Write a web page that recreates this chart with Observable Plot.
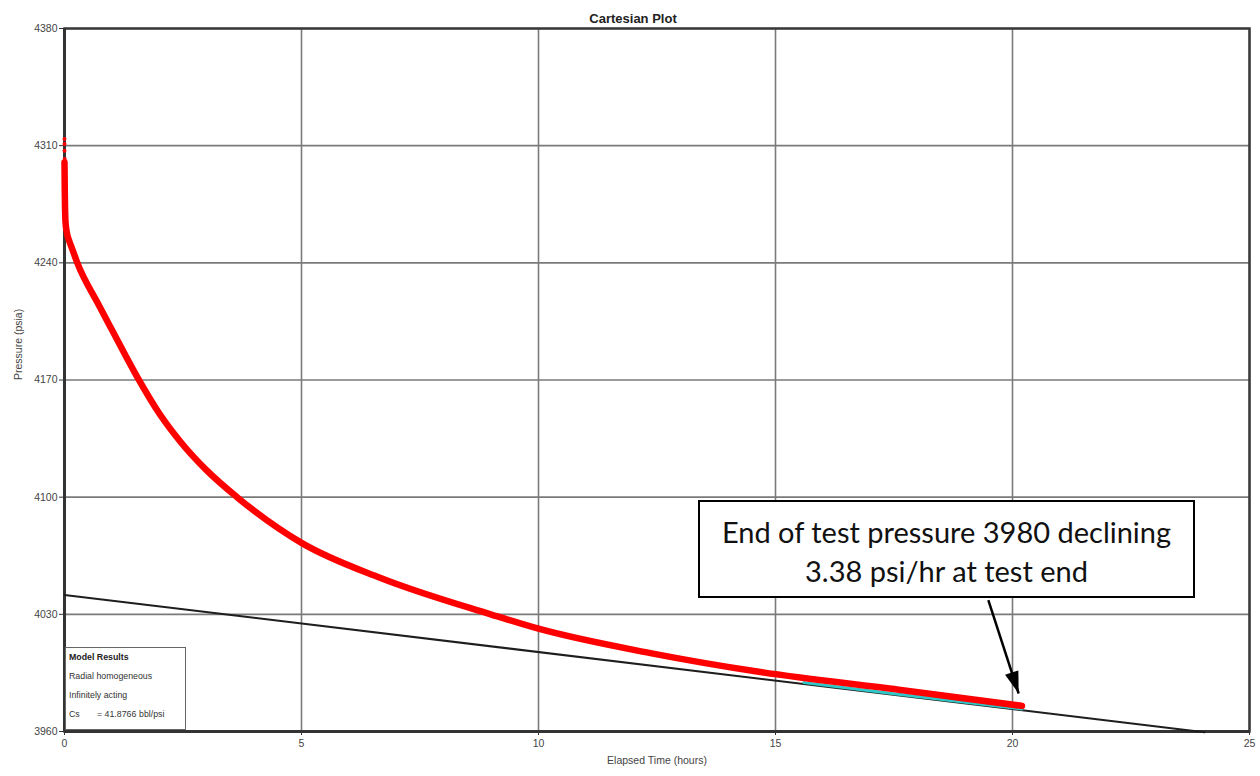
<!DOCTYPE html>
<html>
<head>
<meta charset="utf-8">
<script src="https://cdn.jsdelivr.net/npm/d3@7"></script>
<script src="https://cdn.jsdelivr.net/npm/@observablehq/plot@0.6"></script>
<style>
  html, body { margin: 0; padding: 0; background: #fff; }
  #wrap { position: relative; width: 1260px; height: 776px; overflow: hidden; }
  #note {
    position: absolute; left: 698px; top: 500px; width: 497px; height: 98px;
    box-sizing: border-box; border: 2px solid #000; background: #fff;
    font-family: Lato, "Open Sans", sans-serif; font-size: 29px; line-height: 39px;
    text-align: center; padding-top: 10px; color: #111;
  }
  #model {
    position: absolute; left: 65px; top: 647px; width: 121px; height: 83px;
    box-sizing: border-box; border: 1px solid #666; background: #fff;
    font-family: "Liberation Sans", Arial, sans-serif; font-size: 8.8px; line-height: 19px;
    color: #333; padding-left: 3px;
  }
  #model b { color: #222; }
  #model span { display: inline-block; }
</style>
</head>
<body>
<div id="wrap"></div>
<script>
// ---- data ----
const xTicks = [0, 5, 10, 15, 20, 25];
const yTicks = [3960, 4030, 4100, 4170, 4240, 4310, 4380];

// measured pressure (red)
const measT = [0, 0.005, 0.01, 0.02, 0.05, 0.1, 0.16, 0.27, 0.72, 1.0, 1.53, 2.0, 2.45, 3.0, 3.64, 5.0, 6.67, 8.99, 10.0, 12.36, 14.68, 17.6, 20.2];
const measP = [4300, 4285, 4275, 4265, 4258, 4253, 4248.5, 4240, 4215, 4200, 4172, 4150, 4133, 4116, 4100, 4072.7, 4051.7, 4030, 4021.4, 4006.8, 3995.5, 3985, 3975.3];

// early scattered samples near t = 0
const spikeT = [0, 0, 0, 0.005, 0.005, 0.01];
const spikeP = [4314, 4311, 4307, 4302, 4297, 4292];

// straight-line trend (black)
const trendT = [0, 24.05];
const trendP = [4041.6, 3959.5];

// model match (cyan)
const modelT = [15.6, 17.5, 20.2];
const modelP = [3989.2, 3982.6, 3973.4];

// annotation arrow (from note box to end of test)
const arrowT = [19.49, 20.13];
const arrowP = [4038.5, 3982.7];

const meas = measT.map((t, i) => ({t, p: measP[i]}));
const spikes = spikeT.map((t, i) => ({t, p: spikeP[i]}));
const trend = trendT.map((t, i) => ({t, p: trendP[i]}));
const model = modelT.map((t, i) => ({t, p: modelP[i]}));
const arrow = [{t1: arrowT[0], p1: arrowP[0], t2: arrowT[1], p2: arrowP[1]}];

// narrow filled triangle, tip at origin, pointing up
const arrowHead = {
  draw(ctx) {
    ctx.moveTo(0, 0);
    ctx.lineTo(7, 22);
    ctx.lineTo(-7, 22);
    ctx.closePath();
  }
};
const headAngle = 161.6;

const chart = Plot.plot({
  width: 1260,
  height: 776,
  marginLeft: 64,
  marginRight: 11,
  marginTop: 28,
  marginBottom: 45,
  style: {fontFamily: "'Liberation Sans', Arial, sans-serif", fontSize: "10px", background: "#fff"},
  x: {domain: [0, 25]},
  y: {domain: [3960, 4380]},
  marks: [
    Plot.gridX(xTicks, {stroke: "#7a7a7a", strokeOpacity: 1, strokeWidth: 1.6}),
    Plot.gridY(yTicks, {stroke: "#7a7a7a", strokeOpacity: 1, strokeWidth: 1.6}),
    Plot.frame({stroke: "#3a3a3a", strokeWidth: 2.5}),
    Plot.ruleX([0], {stroke: "#333", strokeWidth: 3}),
    Plot.ruleY([3960], {stroke: "#333", strokeWidth: 3}),
    Plot.axisX(xTicks, {tickSize: 4, tickPadding: 4, fontSize: 10.5, color: "#444", label: null, stroke: "#333", tickFormat: d3.format("d")}),
    Plot.axisY(yTicks, {tickSize: 5, tickPadding: 2, fontSize: 10.5, color: "#444", label: null, stroke: "#333", tickFormat: d3.format("d")}),
    Plot.line(trend, {x: "t", y: "p", stroke: "#1e1e1e", strokeWidth: 2}),
    Plot.line(model, {x: "t", y: "p", stroke: "#2fc8c8", strokeWidth: 3}),
    Plot.line(meas, {x: "t", y: "p", stroke: "#ff0000", strokeWidth: 6.5, curve: "monotone-x"}),
    Plot.dot(spikes, {x: "t", y: "p", r: 2, fill: "#ff0000", stroke: null}),
    Plot.link(arrow, {x1: "t1", y1: "p1", x2: "t2", y2: "p2", stroke: "#000", strokeWidth: 2.5}),
    Plot.dot(arrow, {x: "t2", y: "p2", symbol: arrowHead, fill: "#000", stroke: null, rotate: headAngle}),
    Plot.text(["Cartesian Plot"], {frameAnchor: "top", dy: -15, dx: -24, fontWeight: "bold", fontSize: 13, fill: "#222"}),
    Plot.text(["Elapsed Time (hours)"], {frameAnchor: "bottom", dy: 32, fontSize: 10.5, fill: "#444"}),
    Plot.text(["Pressure (psia)"], {frameAnchor: "left", dx: -46, rotate: -90, fontSize: 10.5, fill: "#444"})
  ]
});

const wrap = document.getElementById("wrap");
wrap.appendChild(chart);

const model_ = document.createElement("div");
model_.id = "model";
model_.innerHTML = "<b>Model Results</b><br>Radial homogeneous<br>Infinitely acting<br>" +
  "<span style='width:28px'>Cs</span><span style='width:42px'>= 41.8766</span><span>bbl/psi</span>";
wrap.appendChild(model_);

const note = document.createElement("div");
note.id = "note";
note.innerHTML = "End of test pressure 3980 declining<br>3.38 psi/hr at test end";
wrap.appendChild(note);
</script>
</body>
</html>
